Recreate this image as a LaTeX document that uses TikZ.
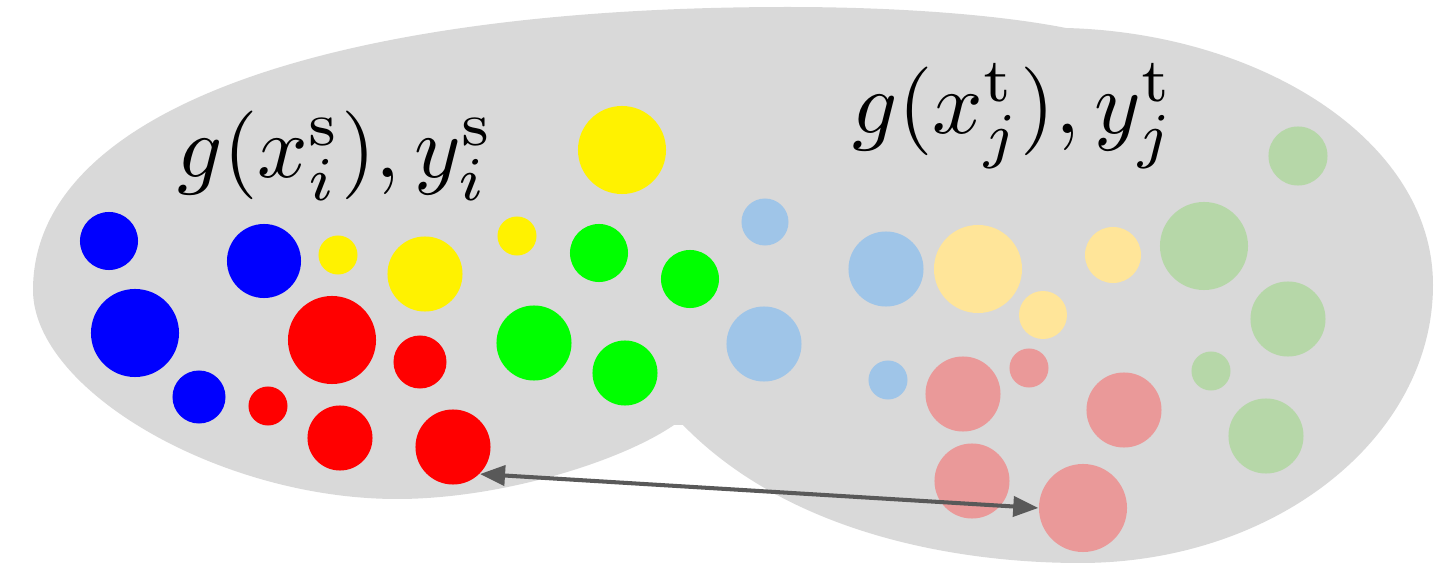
\documentclass[tikz,border=0pt]{standalone}
\usetikzlibrary{arrows.meta}
\definecolor{blobgray}{HTML}{D9D9D9}
\definecolor{lblue}{HTML}{9FC5E8}
\definecolor{lyellow}{HTML}{FFE599}
\definecolor{lgreen}{HTML}{B6D7A8}
\definecolor{lred}{HTML}{EA9999}
\definecolor{arrowgray}{HTML}{595959}
\tikzset{
    ptdot/.style={circle, inner sep=0pt, minimum size=#1},
    maplabel/.style={scale=2.52, inner sep=0pt},
    pairarrow/.style={{Triangle[length=2.5mm, width=2mm]}-{Triangle[length=2.5mm, width=2mm]},
        line width=1.15pt, draw=arrowgray}
}

\begin{document}
\begin{tikzpicture}[x=0.01cm, y=-0.01cm]
\useasboundingbox (0,0) rectangle (1447,564);
% shared feature space
\fill[blobgray] (674,425) .. controls (620,462) and (500,499) .. (397,499)
  .. controls (220,499) and (33,390) .. (33,290)
  .. controls (33,110) and (330,7) .. (788,7)
  .. controls (900,7) and (1000,15) .. (1066,28)
  .. controls (1260,33) and (1433,140) .. (1433,285)
  .. controls (1433,438) and (1275,563) .. (1080,563)
  .. controls (960,563) and (790,535) .. (683,425)
  -- cycle;
% source points
\node[ptdot=0.58cm, fill=blue] (b1) at (109,241) {};
\node[ptdot=0.74cm, fill=blue] (b2) at (264,261) {};
\node[ptdot=0.88cm, fill=blue] (b3) at (135,333) {};
\node[ptdot=0.53cm, fill=blue] (b4) at (199,397) {};
\node[ptdot=0.88cm, fill=yellow] (y1) at (622,150) {};
\node[ptdot=0.39cm, fill=yellow] (y2) at (338,255) {};
\node[ptdot=0.75cm, fill=yellow] (y3) at (425,274) {};
\node[ptdot=0.39cm, fill=yellow] (y4) at (517,236) {};
\node[ptdot=0.58cm, fill=green] (g1) at (599,253) {};
\node[ptdot=0.58cm, fill=green] (g2) at (690,279) {};
\node[ptdot=0.75cm, fill=green] (g3) at (534,343) {};
\node[ptdot=0.65cm, fill=green] (g4) at (625,373) {};
\node[ptdot=0.88cm, fill=red] (r1) at (332,340) {};
\node[ptdot=0.53cm, fill=red] (r2) at (420,362) {};
\node[ptdot=0.39cm, fill=red] (r3) at (268,406) {};
\node[ptdot=0.65cm, fill=red] (r4) at (340,438) {};
\node[ptdot=0.75cm, fill=red] (r5) at (453,447) {};
% target points
\node[ptdot=0.47cm, fill=lblue] (lb1) at (765,222) {};
\node[ptdot=0.75cm, fill=lblue] (lb2) at (886,269) {};
\node[ptdot=0.75cm, fill=lblue] (lb3) at (764,344) {};
\node[ptdot=0.39cm, fill=lblue] (lb4) at (888,380) {};
\node[ptdot=0.88cm, fill=lyellow] (ly1) at (978,269) {};
\node[ptdot=0.56cm, fill=lyellow] (ly2) at (1113,255) {};
\node[ptdot=0.48cm, fill=lyellow] (ly3) at (1043,315) {};
\node[ptdot=0.59cm, fill=lgreen] (lg1) at (1298,156) {};
\node[ptdot=0.88cm, fill=lgreen] (lg2) at (1204,246) {};
\node[ptdot=0.75cm, fill=lgreen] (lg3) at (1288,319) {};
\node[ptdot=0.39cm, fill=lgreen] (lg4) at (1211,371) {};
\node[ptdot=0.75cm, fill=lgreen] (lg5) at (1266,436) {};
\node[ptdot=0.75cm, fill=lred] (lr1) at (963,394) {};
\node[ptdot=0.39cm, fill=lred] (lr2) at (1029,368) {};
\node[ptdot=0.75cm, fill=lred] (lr3) at (1124,410) {};
\node[ptdot=0.75cm, fill=lred] (lr4) at (972,481) {};
\node[ptdot=0.88cm, fill=lred] (lr5) at (1083,508) {};
% labels
\node[maplabel] (srclab) at (336,156) {$g(x^{\mathrm{s}}_i), y^{\mathrm{s}}_i$};
\node[maplabel] (tgtlab) at (1014,116) {$g(x^{\mathrm{t}}_j), y^{\mathrm{t}}_j$};
\draw[pairarrow] (r5.south east) -- (lr5.west);
\end{tikzpicture}
\end{document}
